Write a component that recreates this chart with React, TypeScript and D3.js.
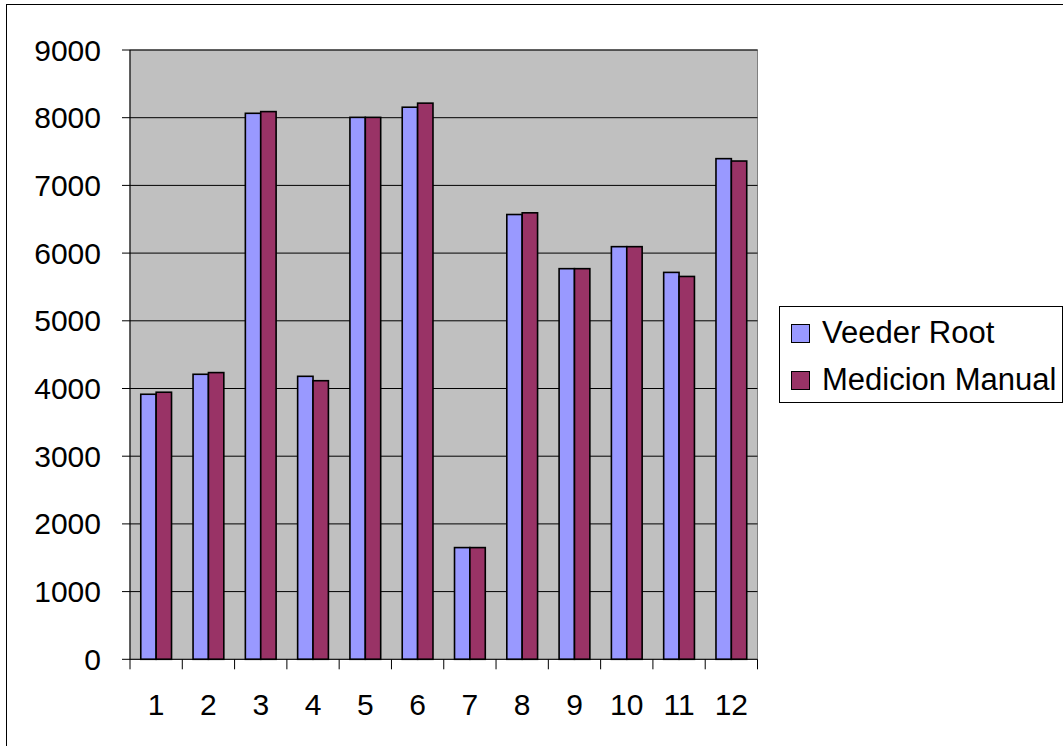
import React from "react";
import * as d3 from "d3";

const categories = ["1", "2", "3", "4", "5", "6", "7", "8", "9", "10", "11", "12"];
const veederRoot = [3915, 4210, 8065, 4180, 8005, 8155, 1650, 6570, 5770, 6095, 5715, 7395];
const medicionManual = [3945, 4235, 8090, 4115, 8005, 8215, 1650, 6595, 5770, 6095, 5655, 7360];
const yTicks = [0, 1000, 2000, 3000, 4000, 5000, 6000, 7000, 8000, 9000];
const seriesNames = ["Veeder Root", "Medicion Manual"];
const seriesColors = ["#9999FF", "#993366"];

export default function App() {
  const W = 1063, H = 746;
  const left = 130, right = 757.5, top = 50, bottom = 659.3;
  const font = "'Liberation Sans', Arial, sans-serif";

  const x = d3.scaleBand<string>().domain(categories).range([left, right]).paddingInner(0).paddingOuter(0);
  const y = d3.scaleLinear().domain([0, 9000]).range([bottom, top]);
  const bw = x.bandwidth();
  const barW = bw / 3.4;
  const gap = (bw - 2 * barW) / 2;
  const series = [veederRoot, medicionManual];

  return (
    <svg width={W} height={H} style={{ position: "absolute", left: 0, top: 0, background: "#fff" }}>
      <rect x={6.5} y={4.5} width={W + 20} height={H + 20} fill="#fff" stroke="#000" strokeWidth={1} />
      <rect x={left} y={top} width={right - left} height={bottom - top} fill="#C0C0C0" stroke="#808080" strokeWidth={1} />
      {yTicks.filter((t) => t > 0).map((t) => (
        <line key={"g" + t} x1={left} x2={right} y1={y(t)} y2={y(t)} stroke="#000" strokeWidth={1} />
      ))}
      {categories.map((c, i) =>
        series.map((s, j) => (
          <rect
            key={c + "-" + j}
            x={(x(c) as number) + gap + j * barW}
            y={y(s[i])}
            width={barW}
            height={y(0) - y(s[i])}
            fill={seriesColors[j]}
            stroke="#000"
            strokeWidth={1.6}
          />
        ))
      )}
      <line x1={left} x2={left} y1={top} y2={bottom} stroke="#000" strokeWidth={1} />
      <line x1={left} x2={right} y1={bottom} y2={bottom} stroke="#000" strokeWidth={1} />
      {yTicks.map((t) => (
        <g key={"y" + t}>
          <line x1={left - 8} x2={left} y1={y(t)} y2={y(t)} stroke="#000" strokeWidth={1} />
          <text x={101} y={y(t) + 10.5} textAnchor="end" fontFamily={font} fontSize={30} fill="#000">
            {t}
          </text>
        </g>
      ))}
      {categories.map((c) => (
        <line key={"xt" + c} x1={x(c) as number} x2={x(c) as number} y1={bottom} y2={bottom + 10} stroke="#000" strokeWidth={1} />
      ))}
      <line x1={right} x2={right} y1={bottom} y2={bottom + 10} stroke="#000" strokeWidth={1} />
      {categories.map((c) => (
        <text key={"xl" + c} x={(x(c) as number) + bw / 2} y={715} textAnchor="middle" fontFamily={font} fontSize={30} fill="#000">
          {c}
        </text>
      ))}
      <rect x={779.5} y={306.5} width={283} height={96} fill="#fff" stroke="#000" strokeWidth={1} />
      {seriesNames.map((n, i) => (
        <g key={n}>
          <rect x={791.5} y={324.5 + i * 47} width={18} height={18} fill={seriesColors[i]} stroke="#000" strokeWidth={1} />
          <text x={822} y={343 + i * 47} fontFamily={font} fontSize={31} fill="#000">
            {n}
          </text>
        </g>
      ))}
    </svg>
  );
}
